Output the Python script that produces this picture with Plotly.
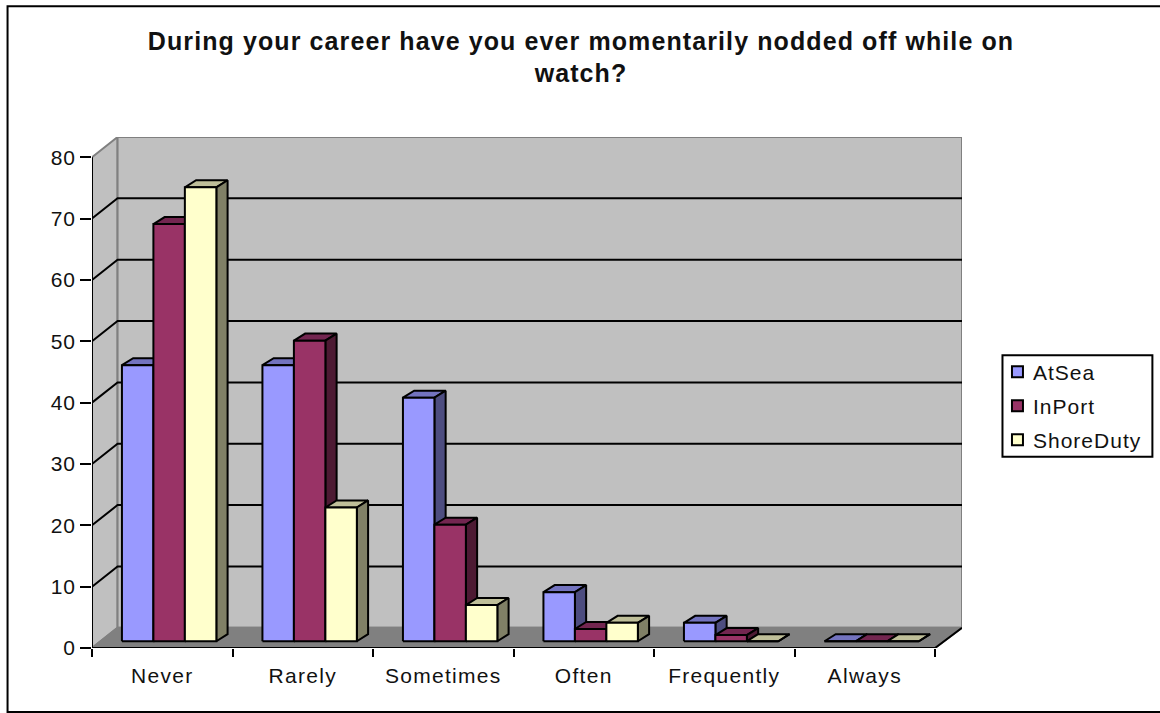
import plotly.graph_objects as go

categories = ["Never", "Rarely", "Sometimes", "Often", "Frequently", "Always"]
at_sea = [45, 45, 39.7, 8, 3, 0]
in_port = [68, 49, 19, 2, 1, 0]
shore_duty = [74, 21.8, 5.9, 3, 0, 0]
y_ticks = [0, 10, 20, 30, 40, 50, 60, 70, 80]

series = [
    ("AtSea", at_sea, "#9999FF", "#7373BF", "#4D4D80"),
    ("InPort", in_port, "#993366", "#732650", "#4D1A33"),
    ("ShoreDuty", shore_duty, "#FFFFCC", "#BFBF99", "#808066"),
]

# pseudo 3d projection, in axis units
WALL_DX = 0.182
WALL_DX_R = 0.192
WALL_DY = 3.3
BAR_DX = 0.08
BAR_DY = 1.15
BAR_START = 0.213
BAR_W = 0.224
BASE = 1.1
N = len(categories)
Y_MAX = y_ticks[-1]

FONT = "Liberation Sans, Arial, sans-serif"
TEXT = "#111111"
LW = 2


def spaced(text, em):
    # the original text is set wide, plotly has no letter spacing option
    return f'<span style="letter-spacing:{em}px">{text}</span>'


def poly(fig, xs, ys, fill=None, line="black", width=LW, name=""):
    fig.add_trace(go.Scatter(
        x=xs, y=ys, mode="lines", name=name, cliponaxis=False,
        fill="toself" if fill else None, fillcolor=fill,
        line=dict(color=line, width=width),
        showlegend=False, hoverinfo="skip",
    ))


def faces(values, k):
    front_x, front_y, top_x, top_y, side_x, side_y = [], [], [], [], [], []
    for i, v in enumerate(values):
        x0 = i + BAR_START + k * BAR_W
        x1 = x0 + BAR_W
        y1 = BASE + v
        front_x += [x0, x1, x1, x0, x0, None]
        front_y += [BASE, BASE, y1, y1, BASE, None]
        top_x += [x0, x1, x1 + BAR_DX, x0 + BAR_DX, x0, None]
        top_y += [y1, y1, y1 + BAR_DY, y1 + BAR_DY, y1, None]
        side_x += [x1, x1 + BAR_DX, x1 + BAR_DX, x1, x1, None]
        side_y += [BASE, BASE + BAR_DY, y1 + BAR_DY, y1, BASE, None]
    return (front_x, front_y), (top_x, top_y), (side_x, side_y)


fig = go.Figure()

# walls and floor
poly(fig, [0, WALL_DX, WALL_DX, 0, 0], [0, WALL_DY, Y_MAX + WALL_DY, Y_MAX, 0], "#C0C0C0", "#808080")
poly(fig, [WALL_DX, N + WALL_DX_R, N + WALL_DX_R, WALL_DX, WALL_DX],
     [WALL_DY, WALL_DY, Y_MAX + WALL_DY, Y_MAX + WALL_DY, WALL_DY], "#C0C0C0", "#808080")
poly(fig, [0, WALL_DX, N + WALL_DX_R, N, 0], [0, WALL_DY, WALL_DY, 0, 0], "#808080", "#808080")

# gridlines
for v in y_ticks[1:-1]:
    poly(fig, [0, WALL_DX, N + WALL_DX_R], [v, v + WALL_DY, v + WALL_DY])

# axis lines
poly(fig, [0, 0], [0, Y_MAX])
poly(fig, [0, N, N + WALL_DX_R], [0, 0, WALL_DY])

# bars, left series first so the next one hides its side
for k, (name, values, front_c, top_c, side_c) in enumerate(series):
    front, top, side = faces(values, k)
    poly(fig, top[0], top[1], top_c, name=name)
    poly(fig, side[0], side[1], side_c, name=name)
    poly(fig, front[0], front[1], front_c, name=name)

# plot area in pixels, used for frame and legend in paper coords
L, R, T, B = 91.5, 962, 136.5, 648


def px(x):
    return (x - L) / (R - L)


def py(y):
    return (B - y) / (B - T)


# the frame runs off the right edge of the picture
shapes = [dict(type="rect", xref="paper", yref="paper", x0=px(7), x1=px(1170), y0=py(712), y1=py(5.5),
               line=dict(color="black", width=2), layer="below"),
          dict(type="rect", xref="paper", yref="paper", x0=px(1002.5), x1=px(1152.5), y0=py(456.5), y1=py(355),
               line=dict(color="black", width=2), fillcolor="white")]
annotations = []
for k, (name, values, front_c, top_c, side_c) in enumerate(series):
    yc = 372 + k * 34
    shapes.append(dict(type="rect", xref="paper", yref="paper", x0=px(1012), x1=px(1023), y0=py(yc + 5), y1=py(yc - 6),
                       fillcolor=front_c, line=dict(color="black", width=2)))
    annotations.append(dict(text=spaced(name, 1), xref="paper", yref="paper", x=px(1031), y=py(yc), xanchor="left", yanchor="middle",
                            showarrow=False, font=dict(family=FONT, size=21, color=TEXT)))

fig.update_layout(
    width=1160, height=713,
    margin=dict(l=L, r=1160 - R, t=T, b=713 - B, pad=0),
    paper_bgcolor="white", plot_bgcolor="white",
    showlegend=False,
    font=dict(family=FONT, size=21, color=TEXT),
    title=dict(
        text="<b>" + spaced("During your career have you ever momentarily nodded off while on", 1.1) + "<br>" + spaced("watch?", 1.1) + "</b>",
        x=581 / 1160, xanchor="center", y=1 - 49.5 / 713, yanchor="middle",
        font=dict(family=FONT, size=25, color=TEXT),
    ),
    shapes=shapes,
    annotations=annotations,
)
fig.update_xaxes(
    range=[0, N + WALL_DX_R], showgrid=False, zeroline=False, showline=False,
    tickmode="array", tickvals=[i + 0.5 for i in range(N)],
    ticktext=[spaced(c, 1.3) for c in categories], ticks="", ticklabelstandoff=13,
    minor=dict(tickmode="array", tickvals=list(range(N + 1)), ticks="outside", ticklen=8, tickwidth=LW, tickcolor="black", showgrid=False),
)
fig.update_yaxes(
    range=[0, Y_MAX + WALL_DY], showgrid=False, zeroline=False, showline=False,
    tickmode="array", tickvals=y_ticks, ticktext=[spaced(v, 0.8) for v in y_ticks],
    ticks="outside", ticklen=11, tickwidth=LW, tickcolor="black",
)

fig.write_html("out.html", config=dict(displayModeBar=False), post_script="document.body.style.margin='0';")
